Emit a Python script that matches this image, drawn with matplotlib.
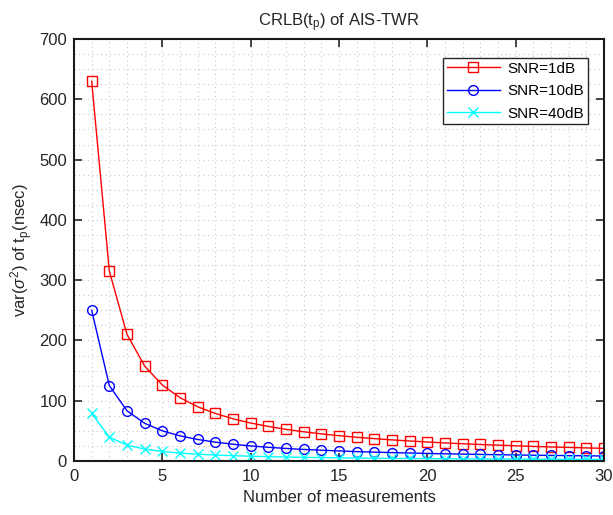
import matplotlib
matplotlib.use("Agg")
import matplotlib.pyplot as plt
from matplotlib.ticker import MultipleLocator

plt.rcParams["font.family"] = ["Liberation Sans", "DejaVu Sans"]
plt.rcParams["mathtext.fontset"] = "custom"
plt.rcParams["mathtext.rm"] = "Liberation Sans"
plt.rcParams["mathtext.it"] = "Liberation Sans:italic"

# data
n_meas = list(range(1, 31))
snr_1db = [630, 315, 210, 157.5, 126, 105, 90, 78.8, 70, 63, 57.3, 52.5, 48.5, 45, 42,
           39.4, 37.1, 35, 33.2, 31.5, 30, 28.6, 27.4, 26.3, 25.2, 24.2, 23.3, 22.5, 21.7, 21]
snr_10db = [250, 125, 83.3, 62.5, 50, 41.7, 35.7, 31.3, 27.8, 25, 22.7, 20.8, 19.2, 17.9, 16.7,
            15.6, 14.7, 13.9, 13.2, 12.5, 11.9, 11.4, 10.9, 10.4, 10, 9.6, 9.3, 8.9, 8.6, 8.3]
snr_40db = [79, 39.5, 26.3, 19.8, 15.8, 13.2, 11.3, 9.9, 8.8, 7.9, 7.2, 6.6, 6.1, 5.6, 5.3,
            4.9, 4.6, 4.4, 4.2, 4.0, 3.8, 3.6, 3.4, 3.3, 3.2, 3.0, 2.9, 2.8, 2.7, 2.6]

fig = plt.figure(figsize=(6.13, 5.15), dpi=100)
ax = fig.add_axes([74 / 613, 1 - 461 / 515, 530 / 613, 422 / 515])

ax.plot(n_meas, snr_1db, color="red", lw=1, marker="s", ms=6.5, mfc="none", mew=1, label="SNR=1dB")
ax.plot(n_meas, snr_10db, color="blue", lw=1, marker="o", ms=7, mfc="none", mew=1, label="SNR=10dB")
ax.plot(n_meas, snr_40db, color="cyan", lw=1, marker="x", ms=7, mew=1, label="SNR=40dB")

ax.set_xlim(0, 30); ax.set_ylim(0, 700)
ax.xaxis.set_major_locator(MultipleLocator(5)); ax.xaxis.set_minor_locator(MultipleLocator(1))
ax.yaxis.set_major_locator(MultipleLocator(100)); ax.yaxis.set_minor_locator(MultipleLocator(25))
ax.grid(which="both", color="#c8c8c8", ls=(0, (1, 3)), lw=0.8)
ax.tick_params(which="both", direction="in", top=True, right=True, labelsize=12, colors="#262626")
ax.tick_params(which="major", length=6, width=1.2)
ax.tick_params(axis="x", which="major", pad=6)
ax.tick_params(axis="y", which="major", pad=5)
ax.tick_params(which="minor", length=0)
for s in ax.spines.values():
    s.set_linewidth(1.5); s.set_color("#1a1a1a")

ax.set_xlabel("Number of measurements", fontsize=12, color="#262626", labelpad=4)
ax.set_ylabel(r"var($\sigma^2$) of t$_\mathrm{p}$(nsec)", fontsize=12, color="#262626", labelpad=3)
ax.set_title(r"CRLB(t$_\mathrm{p}$) of AIS-TWR", fontsize=12, color="#262626", pad=9)

leg = ax.legend(loc="upper right", bbox_to_anchor=(0.970, 0.955), borderaxespad=0, fontsize=11,
                fancybox=False, edgecolor="#262626", framealpha=1, borderpad=0.25,
                handlelength=3.5, labelspacing=0.55, handletextpad=0.5)
leg.get_frame().set_linewidth(1)

fig.savefig("out.png", dpi=100)
